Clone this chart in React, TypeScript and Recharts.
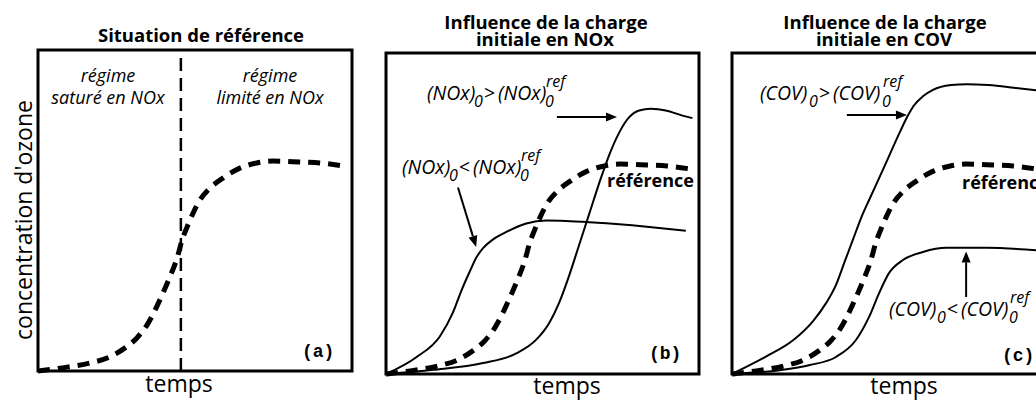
import React from 'react';
import { LineChart, Line, XAxis, YAxis, ReferenceArea, ReferenceLine } from 'recharts';

const FONT = "'Open Sans', 'DejaVu Sans', sans-serif";
const MONO = "'Liberation Mono', 'Courier New', monospace";

// time axis and ozone values are both in % of the panel frame
// reference curve, same shape in the three panels
const refTime = [0, 9.2, 16.6, 22.9, 27.7, 31.5, 34.7, 37.3, 39.8, 42, 44.3, 45.9, 47.5, 49.4, 51.6, 54.8, 58.9, 64.3, 69.7, 74.8, 83.4, 89.8, 97];
const refOzone = [0, 1.2, 2.5, 4.4, 7.2, 10.3, 14.3, 19, 24.3, 29.3, 35.2, 40.8, 44.9, 49.2, 53.3, 57, 60.1, 63.2, 64.8, 65.4, 65.1, 64.8, 63.9];

// panel (b): higher initial NOx (late rise, higher peak)
const noxHighTime = [0, 15.1, 31, 41.6, 48, 52.2, 55.4, 58.6, 61.8, 65, 68.2, 71.3, 74.5, 77.7, 80.9, 84.6, 89.4, 94.7, 97.9];
const noxHighOzone = [0, 1.3, 3.4, 6.4, 10.7, 16, 22.4, 30.9, 40.5, 50.1, 59.7, 68.2, 75.2, 80, 82.1, 82.6, 82.1, 80.5, 79.7];

// panel (b): lower initial NOx (early rise, low plateau)
const noxLowTime = [0, 9.8, 17.2, 21.4, 24.1, 26.8, 29, 31, 34, 37.4, 44.8, 51.2, 62.8, 73.5, 84.1, 95.8];
const noxLowOzone = [0, 5.3, 11.7, 19.2, 26, 32, 36.5, 39.2, 41.8, 43.7, 46.9, 47.8, 47.4, 46.7, 45.8, 44.6];

// panel (c): higher initial COV
const covHighTime = [0, 11, 19.5, 25.9, 30, 33.2, 36, 38.7, 41.2, 43.8, 47, 50, 53.7, 56.2, 58, 61, 64.2, 70, 75, 82, 90, 98];
const covHighOzone = [0, 5.5, 10.5, 16.5, 22, 27.7, 35, 42, 48.5, 54.2, 61, 67.5, 75.5, 80.5, 83.5, 86.5, 88.5, 90, 90.3, 90, 89.2, 88.3];

// panel (c): lower initial COV
const covLowTime = [0, 15.3, 24.9, 33.2, 39.6, 43.8, 47, 50.2, 54.6, 61, 68.4, 81.2, 98];
const covLowOzone = [0, 1.2, 2.8, 5.3, 10.6, 17.8, 25.2, 31.5, 35.5, 38, 39.3, 39.3, 38.5];

// regime boundary in panel (a)
const regimeLimit = 45.5;

const pts = (ts: number[], vs: number[]) => ts.map((t, i) => ({ t, v: vs[i] }));

const H = 401;

type Box = { left: number; top: number; right: number; bottom: number };
const boxA: Box = { left: 38, top: 50, right: 352, bottom: 371 };
const boxB: Box = { left: 386, top: 53, right: 699, bottom: 374 };
const boxC: Box = { left: 732, top: 53, right: 1045, bottom: 374 };

const Arrow = (props: any) => {
  const { x1, y1, x2, y2 } = props;
  const a = Math.atan2(y2 - y1, x2 - x1);
  const len = 11;
  const half = 4.5;
  const bx = x2 - len * Math.cos(a);
  const by = y2 - len * Math.sin(a);
  const px = -Math.sin(a) * half;
  const py = Math.cos(a) * half;
  return (
    <g>
      <line x1={x1} y1={y1} x2={bx} y2={by} stroke="#000" strokeWidth={2} />
      <polygon points={`${x2},${y2} ${bx + px},${by + py} ${bx - px},${by - py}`} fill="#000" />
    </g>
  );
};

const solid = (data: { t: number; v: number }[], key: string) => (
  <Line key={key} data={data} dataKey="v" type="monotone" stroke="#000" strokeWidth={2}
    dot={false} activeDot={false} isAnimationActive={false} />
);

const dashed = (key: string) => (
  <Line key={key} data={pts(refTime, refOzone)} dataKey="v" type="monotone" stroke="#000" strokeWidth={5}
    strokeDasharray="12 8" dot={false} activeDot={false} isAnimationActive={false} />
);

// expression like (NOx)0 > (NOx)0^ref, pieces placed by hand
const Expr = ({ x, y, name, op, w = 47 }: { x: number; y: number; name: string; op: string; w?: number }) => {
  const main = { fontFamily: FONT, fontStyle: 'italic' as const, fontSize: 19.5 };
  const small = { fontFamily: FONT, fontStyle: 'italic' as const, fontSize: 16 };
  return (
    <g>
      <text x={x} y={y} style={main}>{name}</text>
      <text x={x + w} y={y + 7} style={small}>0</text>
      <text x={x + w + 10} y={y} style={{ ...main, fontStyle: 'normal' }}>{op}</text>
      <text x={x + w + 24} y={y} style={main}>{name}</text>
      <text x={x + 2 * w + 24} y={y + 7} style={small}>0</text>
      <text x={x + 2 * w + 25} y={y - 13} style={small}>ref</text>
    </g>
  );
};

// two-line bold title in a single text element
const Title2 = ({ x, l1, l2 }: { x: number; l1: string; l2: string }) => (
  <text x={x} y={29} textAnchor="middle" style={{ fontFamily: FONT, fontWeight: 700, fontSize: 18.5 }}>
    <tspan x={x} y={29}>{l1}</tspan>
    <tspan x={x - 1} y={46}>{l2}</tspan>
  </text>
);

const Panel = ({ box, width, children }: { box: Box; width: number; children: React.ReactNode }) => (
  <div style={{ position: 'absolute', left: 0, top: 0 }}>
    <LineChart width={width} height={H}
      margin={{ left: box.left, top: box.top, right: width - box.right, bottom: H - box.bottom }}>
      <XAxis type="number" dataKey="t" domain={[0, 100]} hide />
      <YAxis type="number" domain={[0, 100]} hide />
      <ReferenceArea x1={0} x2={100} y1={0} y2={100} fill="none" fillOpacity={0} stroke="#000" strokeWidth={3} />
      {children}
    </LineChart>
  </div>
);

const title = { fontFamily: FONT, fontWeight: 700, fontSize: 18.5 };
const italic = { fontFamily: FONT, fontStyle: 'italic' as const, fontSize: 18 };
const axis = { fontFamily: FONT, fontSize: 23 };
const tag = { fontFamily: MONO, fontWeight: 700, fontSize: 18 };
const refTag = { fontFamily: FONT, fontWeight: 700, fontSize: 18 };

export default function App() {
  return (
    <div style={{ position: 'absolute', left: 0, top: 0, width: 1036, height: 401, overflow: 'hidden', background: '#fff' }}>
      <Panel box={boxA} width={1036}>
        <ReferenceLine x={regimeLimit} stroke="#000" strokeWidth={2.5} strokeDasharray="13 7" />
        {dashed('ref-a')}
        <text x={201} y={42} textAnchor="middle" style={title}>Situation de référence</text>
        <text x={108} y={82} textAnchor="middle" style={italic}>régime</text>
        <text x={108} y={104} textAnchor="middle" style={italic}>saturé en NOx</text>
        <text x={270} y={82} textAnchor="middle" style={italic}>régime</text>
        <text x={270} y={104} textAnchor="middle" style={italic}>limité en NOx</text>
        <text x={32} y={220} textAnchor="middle" transform="rotate(-90 32 220)" style={axis}>concentration d'ozone</text>
        <text x={179} y={392} textAnchor="middle" style={axis}>temps</text>
        <text x={302} y={357} style={tag}>(a)</text>
      </Panel>

      <Panel box={boxB} width={1036}>
        {dashed('ref-b')}
        {solid(pts(noxHighTime, noxHighOzone), 'nox-high')}
        {solid(pts(noxLowTime, noxLowOzone), 'nox-low')}
        <ReferenceLine segment={[{ x: 54.6, y: 80.1 }, { x: 73.8, y: 80.1 }]} shape={Arrow} />
        <ReferenceLine segment={[{ x: 23, y: 58.1 }, { x: 28.8, y: 39.6 }]} shape={Arrow} />
        <Title2 x={546} l1="Influence de la charge" l2="initiale en NOx" />
        <Expr x={427} y={100} name="(NOx)" op=">" />
        <Expr x={402} y={174} name="(NOx)" op="<" />
        <text x={607} y={187} style={refTag}>référence</text>
        <text x={567} y={394} textAnchor="middle" style={axis}>temps</text>
        <text x={649} y={359} style={tag}>(b)</text>
      </Panel>

      <Panel box={boxC} width={1050}>
        {dashed('ref-c')}
        {solid(pts(covHighTime, covHighOzone), 'cov-high')}
        {solid(pts(covLowTime, covLowOzone), 'cov-low')}
        <ReferenceLine segment={[{ x: 36.7, y: 80.7 }, { x: 55.9, y: 80.7 }]} shape={Arrow} />
        <ReferenceLine segment={[{ x: 74.8, y: 24 }, { x: 74.8, y: 38.2 }]} shape={Arrow} />
        <Title2 x={885} l1="Influence de la charge" l2="initiale en COV" />
        <Expr x={760} y={100} name="(COV)" op=">" w={49} />
        <Expr x={889} y={316} name="(COV)" op="<" w={48} />
        <text x={962} y={189} style={refTag}>référence</text>
        <text x={904} y={394} textAnchor="middle" style={axis}>temps</text>
        <text x={1002} y={361} style={tag}>(c)</text>
      </Panel>
    </div>
  );
}
